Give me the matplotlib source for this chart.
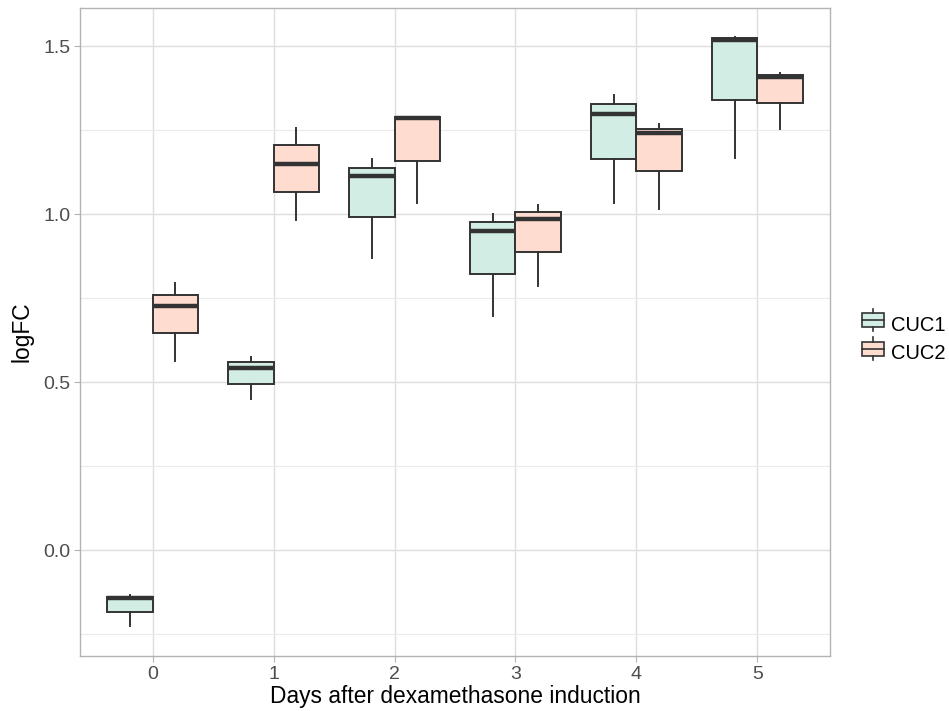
import matplotlib
matplotlib.use("Agg")
import matplotlib.pyplot as plt
from matplotlib.patches import Rectangle
from matplotlib.lines import Line2D
from matplotlib.legend_handler import HandlerBase
from matplotlib.ticker import MultipleLocator

plt.rcParams['font.family'] = ['Liberation Sans', 'DejaVu Sans']

# data (whisker low, q1, median, q3, whisker high)
days = [0, 1, 2, 3, 4, 5]
groups = ['CUC1', 'CUC2']

cuc1_lo = [-0.226, 0.449, 0.871, 0.697, 1.032, 1.166]
cuc1_q1 = [-0.185, 0.494, 0.992, 0.823, 1.164, 1.341]
cuc1_med = [-0.143, 0.541, 1.114, 0.951, 1.299, 1.520]
cuc1_q3 = [-0.140, 0.559, 1.139, 0.976, 1.327, 1.525]
cuc1_hi = [-0.134, 0.575, 1.164, 1.002, 1.354, 1.529]

cuc2_lo = [0.563, 0.982, 1.032, 0.787, 1.015, 1.253]
cuc2_q1 = [0.645, 1.065, 1.159, 0.887, 1.128, 1.331]
cuc2_med = [0.727, 1.149, 1.286, 0.987, 1.242, 1.408]
cuc2_q3 = [0.761, 1.205, 1.290, 1.007, 1.254, 1.413]
cuc2_hi = [0.794, 1.258, 1.290, 1.027, 1.268, 1.419]

fills = ['#d1ede4', '#fedcd0']
edge = '#333333'


def make_stats(lo, q1, med, q3, hi):
    return [dict(whislo=a, q1=b, med=c, q3=d, whishi=e)
            for a, b, c, d, e in zip(lo, q1, med, q3, hi)]


stats = [make_stats(cuc1_lo, cuc1_q1, cuc1_med, cuc1_q3, cuc1_hi),
         make_stats(cuc2_lo, cuc2_q1, cuc2_med, cuc2_q3, cuc2_hi)]

fig = plt.figure(figsize=(9.49, 7.11), dpi=100)
ax = fig.add_axes([0.0843, 0.0774, 0.7903, 0.9114])

w = 0.375
for i, st in enumerate(stats):
    pos = [d + (i - 0.5) * w for d in days]
    ax.bxp(st, positions=pos, widths=w, showfliers=False, showcaps=False,
           patch_artist=True, manage_ticks=False,
           boxprops=dict(facecolor=fills[i], edgecolor=edge, linewidth=1.4),
           whiskerprops=dict(color=edge, linewidth=1.4),
           medianprops=dict(color=edge, linewidth=3.2, solid_capstyle='butt'),
           zorder=3)

ax.set_xlim(-0.6, 5.6)
ax.set_ylim(-0.315, 1.614)
ax.set_xticks(days)
ax.set_xticklabels([str(d) for d in days])
ax.yaxis.set_major_locator(MultipleLocator(0.5))
ax.yaxis.set_minor_locator(MultipleLocator(0.25))
ax.set_yticklabels(['%.1f' % v for v in ax.get_yticks()])

ax.grid(which='major', color='#dedede', linewidth=1.0, zorder=0)
ax.grid(which='minor', axis='y', color='#ebebeb', linewidth=0.8, zorder=0)
ax.tick_params(which='major', colors='#b3b3b3', labelcolor='#4d4d4d',
               labelsize=14, length=4, width=0.8, pad=3)
ax.tick_params(which='minor', length=0)
for s in ax.spines.values():
    s.set_color('#b3b3b3')
    s.set_linewidth(1.0)
ax.set_axisbelow(True)

ax.set_xlabel('Days after dexamethasone induction', fontsize=16.4, labelpad=2)
ax.set_ylabel('logFC', fontsize=16.4, labelpad=7)


class BoxHandler(HandlerBase):
    def __init__(self, fill):
        super().__init__()
        self.fill = fill

    def create_artists(self, legend, orig, xd, yd, width, height, fontsize, trans):
        cx = xd + width / 2
        r = Rectangle((xd, yd + height * 0.1), width, height * 0.8,
                      facecolor=self.fill, edgecolor=edge, linewidth=1.2, transform=trans)
        m = Line2D([xd, xd + width], [yd + height / 2] * 2, color=edge, linewidth=1.2, transform=trans)
        w1 = Line2D([cx, cx], [yd + height * 0.9, yd + height * 1.15], color=edge, linewidth=1.2, transform=trans)
        w2 = Line2D([cx, cx], [yd - height * 0.15, yd + height * 0.1], color=edge, linewidth=1.2, transform=trans)
        return [r, m, w1, w2]


handles = [Rectangle((0, 0), 1, 1) for _ in groups]
ax.legend(handles, groups, loc='center left', bbox_to_anchor=(1.0185, 0.489),
          frameon=False, fontsize=14.5, handlelength=1.1, handleheight=0.95,
          handletextpad=0.35, labelspacing=0.45,
          handler_map={h: BoxHandler(f) for h, f in zip(handles, fills)})

fig.savefig('out.png', dpi=100)
